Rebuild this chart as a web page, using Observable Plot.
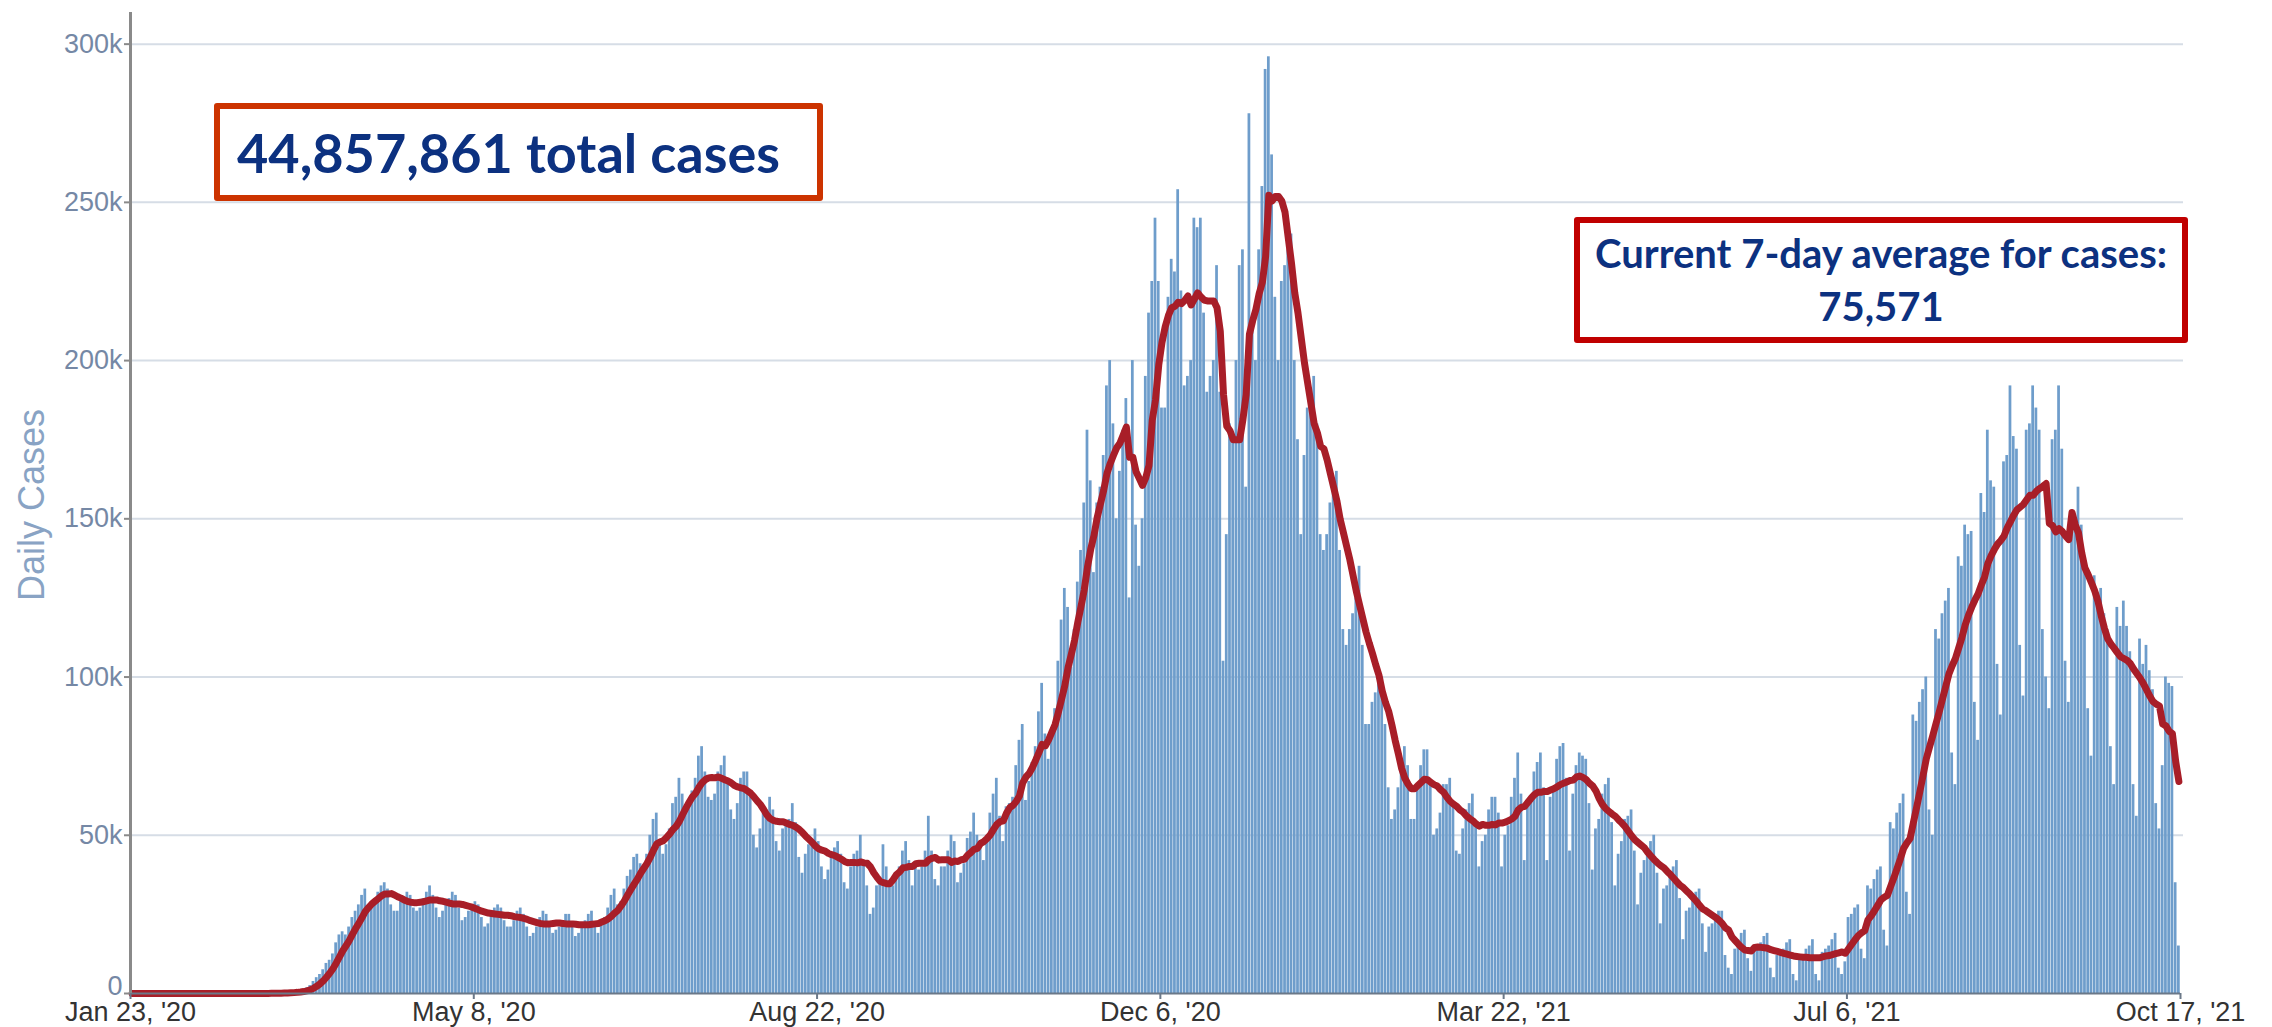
<!DOCTYPE html>
<html>
<head>
<meta charset="utf-8">
<script src="https://cdn.jsdelivr.net/npm/d3@7"></script>
<script src="https://cdn.jsdelivr.net/npm/@observablehq/plot@0.6"></script>
<style>
  html, body { margin: 0; padding: 0; background: #ffffff; }
  #wrap { position: relative; width: 2272px; height: 1027px; overflow: hidden; }
  .box { position: absolute; box-sizing: border-box; background: #ffffff;
         font-family: Lato, "Open Sans", sans-serif; font-weight: 700; color: #0c3180; }
  #totalBox { left: 214px; top: 103px; width: 609px; height: 98px;
              border: 6px solid #cc3300; border-radius: 3px;
              font-size: 54px; display: flex; align-items: center; padding-left: 17px; }
  #avgBox { left: 1574px; top: 217px; width: 614px; height: 126px;
            border: 6px solid #c00000; border-radius: 3px;
            font-size: 40px; line-height: 53px; display: flex; flex-direction: column;
            align-items: center; justify-content: center; text-align: center; }
  #yLabel { position: absolute; left: 32px; top: 505px; transform: translate(-50%, -50%) rotate(-90deg);
            white-space: nowrap; font-family: Arial, "Liberation Sans", sans-serif; font-size: 36px; color: #89a3c4; }
</style>
</head>
<body>
<div id="wrap"></div>
<script>
// ---------- data (daily reported cases, thousands) ----------
const jan20 = [0,0,0,0,0,0,0,0,0];
const feb20 = [0,0,0,0,0,0,0,0,0,0,0,0,0,0,0,0,0,0,0,0,0,0,0,0,0,0,0,0,0.01];
const mar20 = [0.01,0.02,0.03,0.05,0.07,0.09,0.1,0.12,0.2,0.25,0.3,0.4,0.55,0.7,0.9,1.2,1.8,2.5,3.8,5.0,6.0,7.5,9.5,10.5,12.5,16,18.5,19.5,18.5,21,24];
const apr20 = [26,28,31,33,27,29,30,32,34,35,33,28,26,26,29,30,32,31,27,26,27,30,32,34,31,27,24,26,28,30];
const may20 = [32,31,27,23,24,26,28,29,28,24,21,22,25,27,28,27,23,21,21,23,26,27,25,21,18,19,21,24,26,25,21];
const jun20 = [19,20,21,23,25,25,21,18,19,21,23,25,26,22,19,22,24,27,31,33,28,29,33,37,39,43,44,41,40,44];
const jul20 = [50,55,57,48,44,47,52,60,62,68,63,58,60,64,68,75,78,70,62,61,63,70,72,75,67,58,55,60,68,70,70];
const aug20 = [62,50,46,52,57,58,62,58,48,45,52,54,55,60,54,43,38,44,47,48,52,48,40,36,39,44,46,48,44,35,33];
const sep20 = [40,44,45,50,42,34,25,27,34,36,47,40,34,34,38,40,45,48,42,34,40,39,40,45,56,45,36,34,40,40];
const oct20 = [45,50,48,35,38,41,49,51,57,50,46,42,48,57,63,68,56,48,59,60,62,72,80,85,61,67,73,78,89,98,82];
const nov20 = [74,84,90,105,118,128,122,103,115,130,140,155,178,162,133,155,160,170,192,200,180,150,165,178,188,125,200,148,135,150];
const dec20 = [195,215,225,245,225,185,185,220,232,228,254,222,192,195,200,245,242,245,215,190,195,200,230,190,105,145,180,175,200,230,235];
const jan21 = [160,278,210,200,235,255,292,296,265,220,200,225,230,235,240,200,175,145,170,185,190,195,180,145,140,145,155,160,165,140,115];
const feb21 = [110,115,120,125,135,110,85,85,92,95,102,100,85,65,55,58,65,70,78,72,55,55,65,72,77,77,66,50];
const mar21 = [52,57,66,66,68,60,45,44,52,58,60,63,53,40,48,50,58,62,62,57,40,50,53,62,68,76,63,42,59,62,70];
const apr21 = [73,76,65,42,62,65,74,78,79,68,45,63,72,76,75,74,60,39,52,55,63,66,68,54,34,44,48,55,56,58];
const may21 = [45,28,38,42,45,48,50,38,22,33,34,38,40,42,30,17,26,27,30,32,33,22,13,21,22,25,26,26,12,8,6];
const jun21 = [14,17,19,20,11,7,14,15,16,18,19,8,5,12,13,14,16,17,6,4,11,12,14,15,17,6,4,13,14,15];
const jul21 = [17,19,8,6,10,24,25,27,28,14,11,34,33,36,39,40,20,15,54,52,57,60,63,32,25,88,86,92,96,100,58];
const aug21 = [50,115,112,120,124,128,76,66,138,135,148,145,146,92,80,158,152,178,162,160,104,88,168,170,192,176,172,110,94,178,180];
const sep21 = [192,185,178,115,100,90,175,178,192,172,105,92,150,148,160,148,138,90,75,132,125,128,120,115,78,66,122,116,124,116];
const oct21 = [108,66,56,112,104,110,102,96,60,52,72,100,98,97,35,15];

const monthStarts = ["2020-01-23","2020-02-01","2020-03-01","2020-04-01","2020-05-01","2020-06-01",
  "2020-07-01","2020-08-01","2020-09-01","2020-10-01","2020-11-01","2020-12-01",
  "2021-01-01","2021-02-01","2021-03-01","2021-04-01","2021-05-01","2021-06-01",
  "2021-07-01","2021-08-01","2021-09-01","2021-10-01"];
const monthValues = [jan20,feb20,mar20,apr20,may20,jun20,jul20,aug20,sep20,oct20,nov20,dec20,
  jan21,feb21,mar21,apr21,may21,jun21,jul21,aug21,sep21,oct21];

const xDomain = ["2020-01-23", "2021-10-17"];
const xTickDates = ["2020-01-23","2020-05-08","2020-08-22","2020-12-06","2021-03-22","2021-07-06","2021-10-17"];
const xTickLabels = ["Jan 23, '20","May 8, '20","Aug 22, '20","Dec 6, '20","Mar 22, '21","Jul 6, '21","Oct 17, '21"];
const yTicks = [0, 50000, 100000, 150000, 200000, 250000, 300000];
const yTickLabels = ["0","50k","100k","150k","200k","250k","300k"];
const yLabel = "Daily Cases";
const totalCasesText = "44,857,861 total cases";
const avgTitle = "Current 7-day average for cases:";
const avgValue = "75,571";

// ---------- table ----------
const daily = [];
monthStarts.forEach((s, m) => {
  const start = new Date(s + "T00:00:00Z");
  monthValues[m].forEach((v, i) => {
    const date = d3.utcDay.offset(start, i);
    daily.push({date, next: d3.utcDay.offset(date, 1), mid: d3.utcHour.offset(date, 12), cases: v * 1000});
  });
});
const parse = s => new Date(s + "T00:00:00Z");
const xTicks = xTickDates.map(parse);
const origin = parse(xDomain[0]);
const yTickRows = yTicks.map((v, i) => ({v, label: yTickLabels[i]}));

const chart = Plot.plot({
  width: 2272,
  height: 1027,
  marginLeft: 130,
  marginRight: 92,
  marginTop: 12,
  marginBottom: 34,
  x: {type: "utc", domain: xDomain.map(parse), axis: null},
  y: {domain: [0, 310000], axis: null},
  style: {fontFamily: "Arial, 'Liberation Sans', sans-serif", background: "#ffffff", overflow: "visible"},
  marks: [
    Plot.ruleY(yTicks.filter(v => v > 0), {stroke: "#d6dde6", strokeWidth: 2, insetRight: -3}),
    Plot.rectY(daily, {x1: "date", x2: "next", y: "cases", fill: "#6e9dcb", insetLeft: 0.25, insetRight: 0.25}),
    Plot.lineY(daily, Plot.windowY({k: 7, anchor: "end", reduce: "mean"},
      {x: "mid", y: "cases", stroke: "#a81e28", strokeWidth: 7, strokeLinejoin: "round", strokeLinecap: "round"})),
    Plot.ruleY([0], {stroke: "#6b7888", strokeWidth: 2}),
    Plot.ruleX([origin], {stroke: "#8a8a8a", strokeWidth: 3}),
    Plot.ruleY(yTicks, {x1: origin, x2: origin, insetLeft: -6, stroke: "#8a8a8a", strokeWidth: 2}),
    Plot.ruleX(xTicks, {y1: 0, y2: 0, insetBottom: -6, stroke: "#6b7888", strokeWidth: 2}),
    Plot.text(yTickRows.filter(d => d.v > 0), {y: "v", text: "label", frameAnchor: "left",
      textAnchor: "end", dx: -8, fontSize: 27, fill: "#7588a5"}),
    Plot.text(yTickRows.filter(d => d.v === 0), {y: "v", text: "label", frameAnchor: "left",
      textAnchor: "end", dx: -8, dy: -7, fontSize: 27, fill: "#7588a5"}),
    Plot.text(xTicks, {x: d => d, text: (d, i) => xTickLabels[i], frameAnchor: "bottom",
      lineAnchor: "top", dy: 8, fontSize: 27, fill: "#333333"})
  ]
});

const wrap = document.getElementById("wrap");
wrap.appendChild(chart);

const yl = document.createElement("div");
yl.id = "yLabel"; yl.textContent = yLabel;
wrap.appendChild(yl);

const b1 = document.createElement("div");
b1.className = "box"; b1.id = "totalBox"; b1.textContent = totalCasesText;
wrap.appendChild(b1);

const b2 = document.createElement("div");
b2.className = "box"; b2.id = "avgBox";
const l1 = document.createElement("div"); l1.textContent = avgTitle;
const l2 = document.createElement("div"); l2.textContent = avgValue;
b2.appendChild(l1); b2.appendChild(l2);
wrap.appendChild(b2);
</script>
</body>
</html>
